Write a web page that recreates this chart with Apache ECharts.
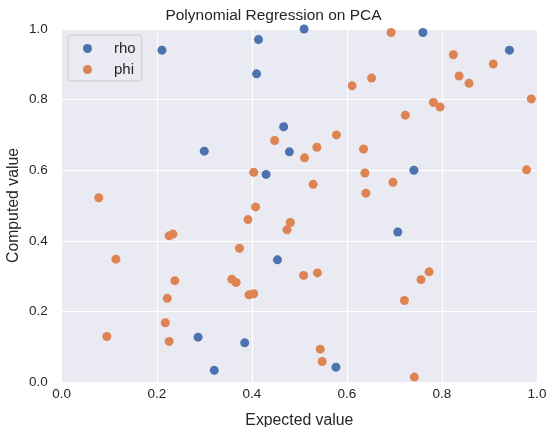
<!DOCTYPE html>
<html>
<head>
<meta charset="utf-8">
<script src="https://cdn.jsdelivr.net/npm/echarts@6/dist/echarts.min.js"></script>
<style>
  html, body { margin: 0; padding: 0; background: #fff; }
  #main { width: 547px; height: 427px; }
</style>
</head>
<body>
<div id="main"></div>
<script>
// 散点数据 [expected, computed]
const rhoData = [
  [0.211, 0.940], [0.414, 0.970], [0.410, 0.873], [0.510, 1.000], [0.760, 0.990],
  [0.942, 0.940], [0.300, 0.654], [0.467, 0.723], [0.479, 0.652], [0.430, 0.588],
  [0.741, 0.600], [0.454, 0.346], [0.287, 0.127], [0.385, 0.111], [0.321, 0.033],
  [0.707, 0.425], [0.577, 0.042]
]
const phiData = [
  [0.448, 0.684], [0.511, 0.635], [0.404, 0.594], [0.078, 0.522], [0.408, 0.496],
  [0.693, 0.990], [0.824, 0.927], [0.908, 0.901], [0.836, 0.867], [0.857, 0.846],
  [0.652, 0.861], [0.611, 0.839], [0.782, 0.792], [0.796, 0.779], [0.988, 0.802],
  [0.723, 0.756], [0.578, 0.700], [0.537, 0.665], [0.635, 0.660], [0.638, 0.592],
  [0.697, 0.566], [0.529, 0.560], [0.640, 0.535], [0.978, 0.601], [0.392, 0.460],
  [0.481, 0.452], [0.474, 0.431], [0.226, 0.414], [0.234, 0.419], [0.374, 0.379],
  [0.114, 0.348], [0.509, 0.302], [0.238, 0.287], [0.358, 0.291], [0.367, 0.282],
  [0.394, 0.247], [0.404, 0.250], [0.222, 0.237], [0.218, 0.168], [0.095, 0.129],
  [0.226, 0.115], [0.538, 0.309], [0.773, 0.312], [0.756, 0.290], [0.721, 0.231],
  [0.544, 0.093], [0.548, 0.058], [0.742, 0.014]
]
const seriesNames = ['rho', 'phi']
const tickValues = [0, 0.2, 0.4, 0.6, 0.8, 1.0]

const font = '"Liberation Sans", Arial, sans-serif'
const textColor = '#262626'

const axisCommon = {
  type: 'value',
  min: 0,
  max: 1,
  interval: 0.2,
  nameLocation: 'middle',
  nameMoveOverlap: false,
  nameTextStyle: { fontFamily: font, fontSize: 15.8, color: textColor },
  axisLine: { show: false },
  axisTick: { show: false },
  axisLabel: {
    fontFamily: font,
    fontSize: 13.5,
    color: textColor,
    formatter: v => tickValues.includes(+v.toFixed(1)) ? v.toFixed(1) : ''
  },
  splitLine: { show: true, lineStyle: { color: '#ffffff', width: 1.2 } }
}

const myChart = echarts.init(document.getElementById('main'), null, { renderer: 'canvas' })
myChart.setOption({
  animation: false,
  backgroundColor: '#ffffff',
  title: {
    text: 'Polynomial Regression on PCA',
    left: 'center',
    top: 3,
    textStyle: { fontFamily: font, fontSize: 15.5, fontWeight: 'normal', color: textColor }
  },
  grid: {
    left: 61.7, right: 10, top: 29, bottom: 45,
    outerBoundsMode: 'none',
    containLabel: false,
    show: true, backgroundColor: '#EAEAF2', borderWidth: 0
  },
  legend: {
    data: seriesNames,
    orient: 'vertical',
    left: 68,
    top: 35,
    padding: [6, 6, 4, 15],
    itemGap: 6,
    itemWidth: 9,
    itemHeight: 9,
    icon: 'circle',
    backgroundColor: 'rgba(234,234,242,0.8)',
    borderColor: '#cccccc',
    borderWidth: 1,
    borderRadius: 3,
    textStyle: { fontFamily: font, fontSize: 15, color: textColor, padding: [0, 0, 0, 17] }
  },
  xAxis: Object.assign({}, axisCommon, {
    name: 'Expected value',
    nameGap: 31,
    axisLabel: Object.assign({}, axisCommon.axisLabel, { margin: 5 })
  }),
  yAxis: Object.assign({}, axisCommon, {
    name: 'Computed value',
    nameGap: 40,
    axisLabel: Object.assign({}, axisCommon.axisLabel, { margin: 14 })
  }),
  series: [{
    name: 'rho',
    type: 'scatter',
    symbolSize: 9,
    clip: false,
    itemStyle: { color: '#4C72B0', opacity: 1 },
    data: rhoData
  }, {
    name: 'phi',
    type: 'scatter',
    symbolSize: 9,
    clip: false,
    itemStyle: { color: '#DD8452', opacity: 1 },
    data: phiData
  }]
})
</script>
</body>
</html>
